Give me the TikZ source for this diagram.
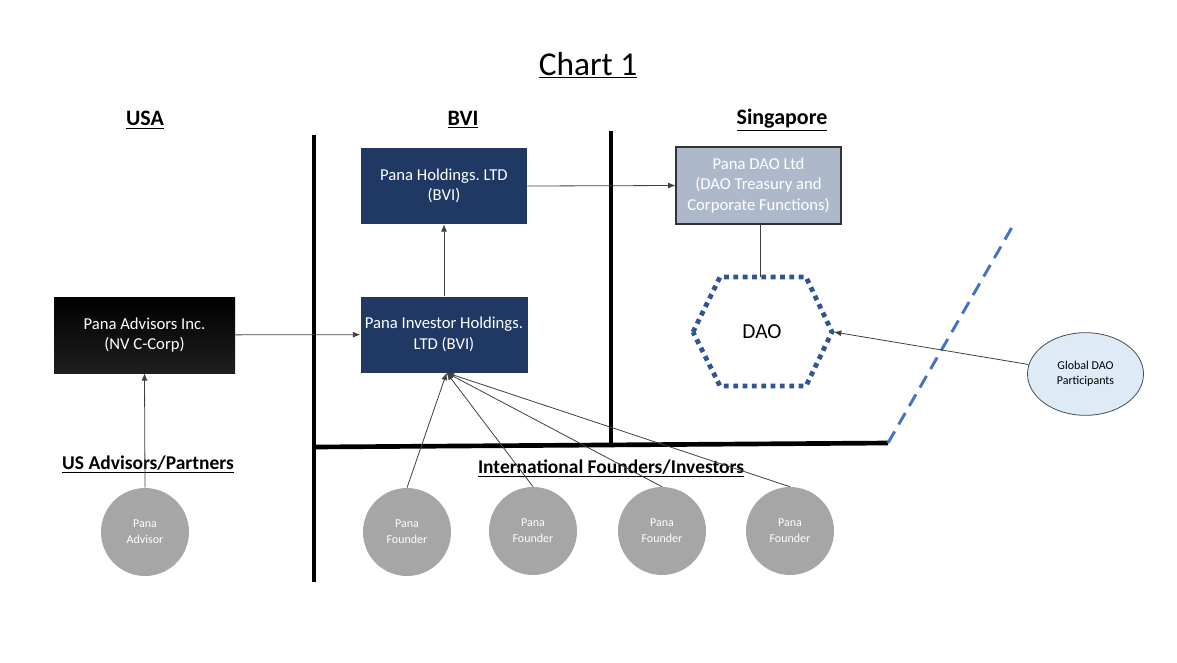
\documentclass[tikz,border=0pt]{standalone}
\usepackage{fontspec}
\setmainfont{Carlito}
\frenchspacing
\usetikzlibrary{shapes.geometric,arrows.meta}
\definecolor{navy}{HTML}{203864}
\definecolor{daogray}{HTML}{ADB9CA}
\definecolor{hexblue}{HTML}{2F5597}
\definecolor{dashblue}{HTML}{4472C4}
\definecolor{paleblue}{HTML}{DEEBF7}
\definecolor{persongray}{HTML}{A6A6A6}
\definecolor{linegray}{HTML}{404040}

\begin{document}
\begin{tikzpicture}[x=0.75pt,y=-0.75pt,
    entity/.style={fill=navy, text=white, minimum width=124.5pt, minimum height=57pt,
        align=center, font=\fontsize{12.5}{15.5}\selectfont},
    person/.style={circle, fill=persongray, text=white, minimum size=66pt,
        align=center, font=\fontsize{9}{12}\selectfont},
    head/.style={font=\fontsize{16.5}{20}\selectfont\bfseries},
    group/.style={font=\fontsize{14.6}{18}\selectfont\bfseries},
    conn/.style={draw=linegray, line width=0.6pt, -{Latex[length=5.5pt,width=4.5pt]}},
    border/.style={line width=3.5pt}]

    \useasboundingbox (0,0) rectangle (1177,662);

    % titles
    \node (title) at (588,65) {\fontsize{25}{30}\selectfont\underline{Chart 1}};
    \node[head] (usa) at (145,120) {\underline{USA}};
    \node[head] (bvi) at (463,120) {\underline{BVI}};
    \node[head] (sg) at (782,120) {\underline{Singapore}};

    % borders
    \draw[border] (314,135) -- (314,582);
    \draw[border] (611,131) -- (611,443);
    \draw[border] (314,447) -- (888,443);
    \draw[dashblue, line width=2.2pt, dash pattern=on 10pt off 6pt] (888,443) -- (1015,222);

    % entities
    \node[entity] (hold) at (444,186) {Pana Holdings. LTD\\(BVI)};
    \node[entity] (ih) at (444,334.5) {Pana Investor Holdings.\\LTD (BVI)};
    \node[entity, fill=black, top color=black, bottom color=black!88, minimum width=135.75pt]
        (adv) at (144.5,335) {Pana Advisors Inc.\\(NV C-Corp)};
    \node[entity, fill=daogray, draw=black!80, line width=0.8pt, minimum width=123.75pt,
        minimum height=57.75pt] (daoltd) at (758.5,185.5)
        {Pana DAO Ltd\\(DAO Treasury and\\Corporate Functions)};

    % DAO hexagon
    \draw[hexblue, line width=3.6pt, dash pattern=on 3.6pt off 3.4pt]
        (693,332) -- (720,277) -- (806,277) -- (832,332) -- (806,386) -- (720,386) -- cycle;
    \node[font=\fontsize{16}{19}\selectfont] (dao) at (762,332) {DAO};
    \coordinate (daotop) at (760,277);
    \coordinate (daoright) at (834,332);

    \node[ellipse, draw=black!70, line width=0.6pt, fill=paleblue, minimum width=87pt,
        minimum height=62pt, align=center, font=\fontsize{9}{11}\selectfont] (gdp) at (1085.5,374)
        {Global DAO\\Participants};

    % people
    \node[group] (usgrp) at (148,464) {\underline{US Advisors/Partners}};
    \node[group] (intgrp) at (611,468) {\underline{International Founders/Investors}};
    \node[person] (pa) at (145,532) {Pana\\Advisor};
    \node[person] (f1) at (407,532) {Pana\\Founder};
    \node[person] (f2) at (533,531) {Pana\\Founder};
    \node[person] (f3) at (662,531) {Pana\\Founder};
    \node[person] (f4) at (790,531) {Pana\\Founder};

    % connectors
    \draw[conn] (adv) -- (ih);
    \draw[conn] (ih) -- (hold);
    \draw[conn] (hold.east) -- (daoltd.west);
    \draw[linegray, line width=0.6pt] (daoltd.south -| daotop) -- (daotop);
    \draw[conn] (gdp) -- (daoright);
    \draw[conn] (pa.north) -- (adv.south);
    \foreach \f in {f1,f2,f3,f4}
        \draw[conn] (\f.north) -- ([xshift=2pt]ih.south);
\end{tikzpicture}
\end{document}
